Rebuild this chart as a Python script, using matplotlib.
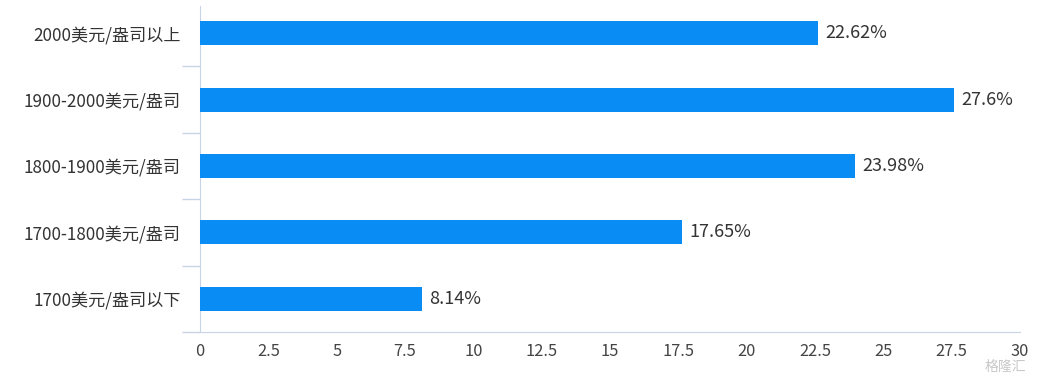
import matplotlib
matplotlib.use("Agg")
import matplotlib.pyplot as plt
import numpy as np

plt.rcParams['font.family'] = ['Noto Sans CJK SC', 'DejaVu Sans']

categories = ["1700美元/盎司以下", "1700-1800美元/盎司", "1800-1900美元/盎司",
              "1900-2000美元/盎司", "2000美元/盎司以上"]
values = [8.14, 17.65, 23.98, 27.6, 22.62]
labels = ["8.14%", "17.65%", "23.98%", "27.6%", "22.62%"]
xticks = [0, 2.5, 5, 7.5, 10, 12.5, 15, 17.5, 20, 22.5, 25, 27.5, 30]

bar_color = "#0a8cf5"
axis_color = "#c8d4e6"
text_color = "#333333"

fig = plt.figure(figsize=(10.56, 3.76), dpi=100)
ax = fig.add_axes([200 / 1056, 1 - 332 / 376, 820 / 1056, 332 / 376])

y = np.arange(len(categories))
ax.barh(y, values, height=0.36, color=bar_color, zorder=3)
for yi, v, lab in zip(y, values, labels):
    ax.annotate(lab, (v, yi), xytext=(5, 0), textcoords="offset points",
                va="center", ha="left", fontsize=13, color=text_color)

ax.set_xlim(0, 30)
ax.set_ylim(-0.5, 4.5)
ax.set_xticks(xticks)
ax.set_xticklabels([f"{t:g}" for t in xticks], fontsize=11.8, color="#444444")
ax.tick_params(axis="x", length=0, pad=8)

ax.set_yticks(y)
ax.set_yticklabels(categories, fontsize=12.3, color=text_color)
ax.tick_params(axis="y", which="major", length=0, pad=14)
ax.set_yticks(np.arange(-0.5, 4.5, 1.0), minor=True)
ax.tick_params(axis="y", which="minor", length=13, color=axis_color, width=1)

for s in ["top", "right"]:
    ax.spines[s].set_visible(False)
ax.spines["left"].set_color(axis_color)
ax.spines["left"].set_bounds(-0.5, 4.41)
ax.spines["bottom"].set_color(axis_color)

fig.text(985 / 1056, 1 - 367 / 376, "格隆汇", fontsize=10, color="#c8c8c8", ha="left", va="center")

fig.savefig("out.png", dpi=100, facecolor="white")
